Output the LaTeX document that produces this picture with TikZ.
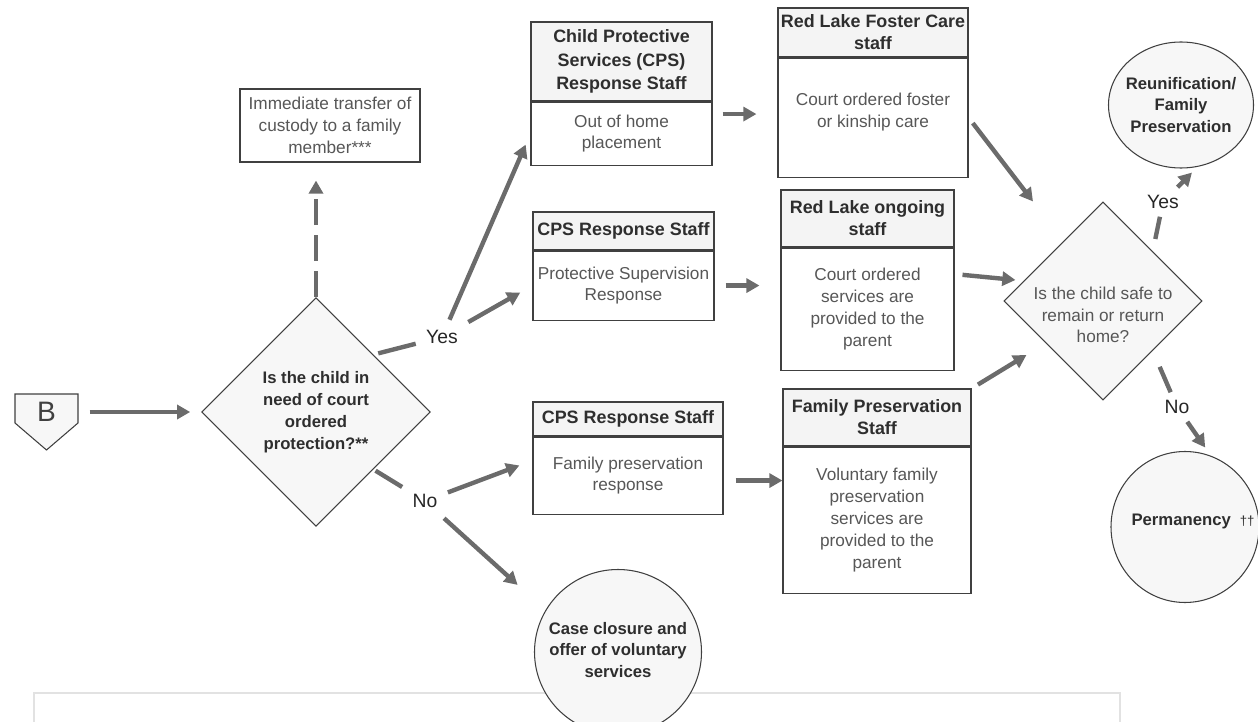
\documentclass[tikz,border=0pt]{standalone}
\usepackage{fontspec}
\setmainfont{Liberation Sans}
\usetikzlibrary{shapes.geometric,arrows.meta}

\definecolor{linec}{HTML}{404040}
\definecolor{arrowc}{HTML}{6B6B6B}
\definecolor{hdrfill}{HTML}{F4F4F4}
\definecolor{shapefill}{HTML}{F7F7F7}
\definecolor{hdrtext}{HTML}{2E2E2E}
\definecolor{bodytext}{HTML}{575757}
\definecolor{framec}{HTML}{E2E2E2}

\begin{document}
\begin{tikzpicture}[auto,semithick,
    hdr/.style={draw=linec, fill=hdrfill, text=hdrtext, align=center, inner sep=1pt,
      font=\fontsize{10.2}{12.5}\selectfont\bfseries},
    bodyb/.style={draw=linec, fill=white, text=bodytext, align=center, inner sep=1pt,
      font=\fontsize{9.8}{12.4}\selectfont, anchor=north},
    ask/.style={diamond, draw=linec, fill=shapefill, inner sep=0pt},
    endc/.style={ellipse, draw=linec, fill=shapefill, inner sep=0pt},
    endtxt/.style={align=center, text=hdrtext, font=\fontsize{9.5}{12}\selectfont\bfseries},
    lbl/.style={text=black!85, inner sep=0.2cm, font=\fontsize{11}{13}\selectfont},
    seg/.style={draw=arrowc, line width=2.5pt},
    flow/.style={seg, -{Triangle[length=7.5pt,width=8pt]}}]
  \useasboundingbox (0,0) rectangle (25.16,14.42);
  \clip (0,0) rectangle (25.16,14.42);

  % page frame at the bottom
  \draw[framec, line width=0.8pt] (0.68,-0.5) rectangle (22.40,0.56);

  % off page connector B
  \draw[linec, fill=shapefill] (0.30,6.54) -- (1.56,6.54) -- (1.56,5.96) -- (0.93,5.42)
    -- (0.30,5.96) -- cycle;
  \node[text=linec, font=\fontsize{16}{18}\selectfont, minimum width=1.26cm] (B) at (0.93,6.18) {B};

  % first question
  \node[ask, minimum size=4.57cm, text=hdrtext, align=center,
    font=\fontsize{9.5}{12.4}\selectfont\bfseries] (q1) at (6.32,6.18)
    {Is the child in\\need of court\\ordered\\protection?**};
  \node[draw=linec, fill=white, text=bodytext, align=center, font=\fontsize{9.8}{12.4}\selectfont,
    minimum width=3.60cm, minimum height=1.46cm, inner sep=1pt] (imm) at (6.60,11.91)
    {Immediate transfer of\\custody to a family\\member***};
  \node[lbl] (yes1) at (8.84,7.68) {Yes};
  \node[lbl] (no1) at (8.50,4.40) {No};

  % CPS response staff
  \node[hdr, minimum width=3.62cm, minimum height=1.58cm, font=\fontsize{10.2}{13.4}\selectfont\bfseries]
    (h1) at (12.43,13.19) {Child Protective\\Services (CPS)\\Response Staff};
  \node[bodyb, minimum width=3.62cm, minimum height=1.26cm] (b1) at (h1.south) {Out of home\\placement};
  \node[hdr, minimum width=3.62cm, minimum height=0.76cm] (h2) at (12.47,9.80) {CPS Response Staff};
  \node[bodyb, minimum width=3.62cm, minimum height=1.38cm] (b2) at (h2.south) {Protective Supervision\\Response};
  \node[hdr, minimum width=3.80cm, minimum height=0.68cm] (h3) at (12.56,6.04) {CPS Response Staff};
  \node[bodyb, minimum width=3.80cm, minimum height=1.54cm] (b3) at (h3.south) {Family preservation\\response};

  % ongoing staff
  \node[hdr, minimum width=3.80cm, minimum height=0.98cm] (h4) at (17.46,13.77) {Red Lake Foster Care\\staff};
  \node[bodyb, minimum width=3.80cm, minimum height=2.38cm, text depth=0.3cm] (b4) at (h4.south) {Court ordered foster\\or kinship care};
  \node[hdr, minimum width=3.46cm, minimum height=1.14cm] (h5) at (17.35,10.05) {Red Lake ongoing\\staff};
  \node[bodyb, minimum width=3.46cm, minimum height=2.44cm] (b5) at (h5.south) {Court ordered\\services are\\provided to the\\parent};
  \node[hdr, minimum width=3.76cm, minimum height=1.14cm] (h6) at (17.54,6.07) {Family Preservation\\Staff};
  \node[bodyb, minimum width=3.76cm, minimum height=2.92cm] (b6) at (h6.south) {Voluntary family\\preservation\\services are\\provided to the\\parent};

  % second question and outcomes
  \node[ask, minimum size=3.96cm] (q2) at (22.06,8.40) {};
  \node[text=bodytext, align=center, font=\fontsize{9.8}{12.4}\selectfont] (q2txt)
    at ([yshift=-0.28cm]q2.center) {Is the child safe to\\remain or return\\home?};
  \node[lbl, inner sep=0.15cm] (yes2) at (23.26,10.38) {Yes};
  \node[lbl, inner sep=0.15cm] (no2) at (23.54,6.28) {No};
  \node[endc, minimum width=2.90cm, minimum height=2.52cm] (reunif) at (23.62,12.32) {};
  \node[endtxt] at (reunif) {Reunification/\\Family\\Preservation};
  \node[endc, minimum width=2.96cm, minimum height=3.02cm] (perm) at (23.70,3.88) {};
  \node[endtxt, anchor=west, inner sep=0pt] at (22.62,4.0) {Permanency\hspace{0.18cm}{\mdseries\fontsize{7.5}{10}\selectfont††}};
  \node[endc, minimum width=3.34cm, minimum height=3.30cm] (closure) at (12.36,1.38) {};
  \node[endtxt] at ([yshift=0.04cm]closure) {Case closure and\\offer of voluntary\\services};

  % connectors
  \draw[flow, shorten <=0.22cm, shorten >=0.22cm] (B) -- (q1);
  \draw[flow, dash pattern=on 0.52cm off 0.2cm, shorten >=0.36cm] (q1.north) -- (q1.north |- imm.south);
  \draw[seg, shorten <=0.1cm] (q1.north east) -- (yes1);
  \draw[flow, shorten >=0.24cm] (yes1) -- (b1.west);
  \draw[flow, shorten >=0.28cm] (yes1) -- (b2.west);
  \draw[seg, shorten <=0.05cm] (q1.south east) -- (no1);
  \draw[flow, shorten >=0.28cm] (no1) -- ([yshift=0.3cm]b3.west);
  \draw[flow, shorten >=0.75cm] (no1) -- (closure.150);

  \draw[flow, shorten <=0.2cm, shorten >=0.42cm] ([yshift=0.39cm]b1.east) -- ([yshift=0.39cm]b1.east -| h4.west);
  \draw[flow, shorten <=0.22cm, shorten >=0.42cm] (b2.east) -- (b2.east -| b5.west);
  \draw[flow, shorten <=0.24cm] ([yshift=-0.1cm]b3.east) -- ([yshift=-0.1cm]b3.east -| b6.west);

  \draw[flow, shorten <=0.14cm] (b4.east) -- ([xshift=-1.4cm]q2.north);
  \draw[flow, shorten <=0.16cm] ([yshift=0.7cm]b5.east) -- ([xshift=0.24cm,yshift=0.42cm]q2.west);
  \draw[flow, shorten <=0.15cm] (h6.north east) -- ([xshift=0.46cm,yshift=-1.08cm]q2.west);

  \draw[seg, shorten <=0.25cm] (q2.north east) -- (yes2);
  \draw[flow, shorten >=0.16cm] (yes2) -- (reunif.-75);
  \draw[seg, shorten <=0.35cm] (q2.south east) -- (no2);
  \draw[flow, shorten >=0.2cm] (no2) -- (perm.70);
\end{tikzpicture}
\end{document}
